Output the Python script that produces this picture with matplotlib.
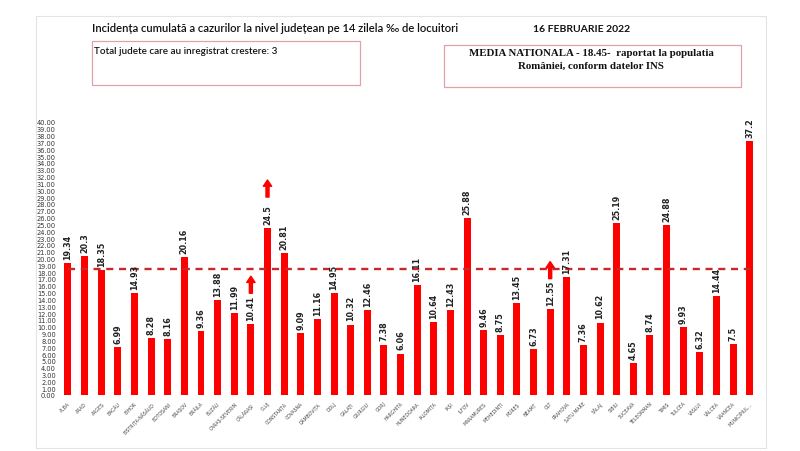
import numpy as np
import matplotlib.pyplot as plt
from matplotlib.patches import Rectangle

# county names and cumulative incidence (per 1000 inhabitants, 14 days)
judete = ['ALBA', 'ARAD', 'ARGEȘ', 'BACĂU', 'BIHOR', 'BISTRIȚA-NĂSĂUD', 'BOTOȘANI',
          'BRAȘOV', 'BRĂILA', 'BUZĂU', 'CARAȘ-SEVERIN', 'CĂLĂRAȘI', 'CLUJ', 'CONSTANȚA',
          'COVASNA', 'DÂMBOVIȚA', 'DOLJ', 'GALAȚI', 'GIURGIU', 'GORJ', 'HARGHITA',
          'HUNEDOARA', 'IALOMIȚA', 'IAȘI', 'ILFOV', 'MARAMUREȘ', 'MEHEDINȚI', 'MUREȘ',
          'NEAMȚ', 'OLT', 'PRAHOVA', 'SATU MARE', 'SĂLAJ', 'SIBIU', 'SUCEAVA',
          'TELEORMAN', 'TIMIȘ', 'TULCEA', 'VASLUI', 'VÂLCEA', 'VRANCEA', 'MUNICIPIUL...']
incidenta = [19.34, 20.3, 18.35, 6.99, 14.93, 8.28, 8.16, 20.16, 9.36, 13.88, 11.99,
             10.41, 24.5, 20.81, 9.09, 11.16, 14.95, 10.32, 12.46, 7.38, 6.06, 16.11,
             10.64, 12.43, 25.88, 9.46, 8.75, 13.45, 6.73, 12.55, 17.31, 7.36, 10.62,
             25.19, 4.65, 8.74, 24.88, 9.93, 6.32, 14.44, 7.5, 37.2]
crestere = ['CĂLĂRAȘI', 'CLUJ', 'OLT']
media_nationala = 18.45
y_ticks = np.arange(0, 41, 1)

fig = plt.figure(figsize=(8, 4.52), dpi=100)
fig.patch.set_facecolor('white')

# outer light frame
fig.add_artist(Rectangle((0.045, 0.0066), 0.9125, 0.956, transform=fig.transFigure,
                         fill=False, edgecolor='#e3e3e3', linewidth=0.8))

ax = fig.add_axes([0.0725, 0.1239, 0.875, 0.604])
x = np.arange(len(judete))
ax.bar(x, incidenta, width=0.42, color='#ff0000', zorder=2)

ax.hlines(media_nationala, 0, len(judete) - 1, colors='#c82828', linewidth=1.7,
          linestyles=(0, (3, 2.4)), zorder=3)

# value labels
for xi, v in zip(x, incidenta):
    ax.annotate(str(v), xy=(xi, v), xytext=(0, 3), textcoords='offset points',
                ha='center', va='bottom', rotation=90, fontsize=5.8,
                fontweight='bold', color='#222222', family='DejaVu Sans')

# arrows for counties with growth
for nume in crestere:
    i = judete.index(nume)
    v = incidenta[i]
    ax.annotate('', xy=(i, v + 7.0), xytext=(i, v + 4.5),
                arrowprops=dict(facecolor='#ff0000', edgecolor='#ff0000', width=2.2,
                                headwidth=6, headlength=4.5, shrink=0))

ax.set_xlim(-0.6, len(judete) - 0.5)
ax.set_ylim(0, 40)
ax.set_yticks(y_ticks)
ax.set_yticklabels(['%.2f' % t for t in y_ticks], fontsize=4.8, color='#333333')
ax.set_xticks(x)
ax.set_xticklabels(judete, rotation=45, ha='right', rotation_mode='anchor',
                   fontsize=3.3, color='#444444')
ax.tick_params(axis='both', length=0)
ax.tick_params(axis='y', pad=1.5)
ax.tick_params(axis='x', pad=4)
for s in ax.spines.values():
    s.set_visible(False)

# header texts
fig.text(0.115, 1 - 29 / 452, 'Incidența cumulată a cazurilor la nivel județean pe 14 zilela ‰ de locuitori',
         fontsize=8.1, family=['Lato', 'DejaVu Sans'], fontweight='semibold',
         ha='left', va='center', color='#111111')
fig.text(0.666, 1 - 29 / 452, '16 FEBRUARIE 2022', fontsize=7.5,
         family=['Lato', 'DejaVu Sans'], fontweight='bold', ha='left', va='center',
         color='#111111')

# left box
fig.add_artist(Rectangle((0.115, 1 - 86 / 452), 0.335, 44 / 452, transform=fig.transFigure,
                         fill=False, edgecolor='#e0a0a8', linewidth=0.9))
fig.text(0.118, 1 - 51 / 452, 'Total judete care au inregistrat crestere: 3', fontsize=7.1,
         family=['Lato', 'DejaVu Sans'], fontweight='semibold', ha='left', va='center',
         color='#111111')

# right box
fig.add_artist(Rectangle((0.555, 1 - 88 / 452), 0.371, 42 / 452, transform=fig.transFigure,
                         fill=False, edgecolor='#e0a0a8', linewidth=0.9))
fig.text(0.739, 1 - 54 / 452, 'MEDIA NATIONALA - 18.45-  raportat la populatia',
         fontsize=7.8, family='Liberation Serif', fontweight='bold', ha='center',
         va='center', color='#111111')
fig.text(0.739, 1 - 66 / 452, 'României, conform datelor INS',
         fontsize=7.8, family='Liberation Serif', fontweight='bold', ha='center',
         va='center', color='#111111')

fig.savefig('out.png', dpi=100, facecolor='white')
